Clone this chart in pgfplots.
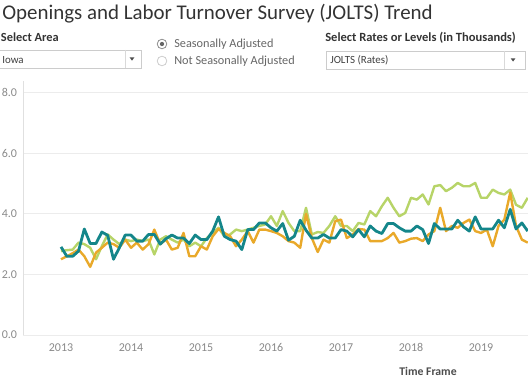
\documentclass[border=0pt]{standalone}
\usepackage{pgfplots}
\pgfplotsset{compat=1.18}
\usepackage{pgfplotstable}
\usepackage{fontspec}
\setmainfont{Carlito}
\definecolor{cOrange}{HTML}{E9A92A}
\definecolor{cGreen}{HTML}{B7D468}
\definecolor{cTeal}{HTML}{14868A}
\definecolor{cTitle}{HTML}{333333}
\definecolor{cTick}{HTML}{8A8A8A}
\definecolor{cGrid}{HTML}{ECECEC}

\pgfplotstableread{
x teal orange green
2013.000 2.91 2.50 2.77
2013.083 2.60 2.60 2.80
2013.167 2.60 2.70 2.82
2013.250 2.77 2.82 3.05
2013.333 3.50 2.60 3.00
2013.417 3.02 2.25 2.88
2013.500 3.02 2.72 2.50
2013.583 3.40 2.88 2.93
2013.667 3.29 3.05 3.32
2013.750 2.50 3.00 3.15
2013.833 2.88 2.88 3.00
2013.917 3.30 3.15 3.15
2014.000 3.30 2.88 3.10
2014.083 3.10 3.05 3.15
2014.167 3.10 2.82 3.10
2014.250 3.32 3.00 3.15
2014.333 3.32 3.48 2.66
2014.417 3.00 3.00 3.15
2014.500 3.18 3.15 3.26
2014.583 3.30 2.82 3.15
2014.667 3.20 2.88 3.05
2014.750 3.20 3.37 3.15
2014.833 3.02 2.60 2.93
2014.917 3.30 2.60 3.05
2015.000 3.15 2.93 2.93
2015.083 3.15 2.82 3.20
2015.167 3.43 3.26 3.37
2015.250 3.90 3.50 3.54
2015.333 3.26 3.37 3.26
2015.417 3.15 3.26 3.32
2015.500 3.10 2.93 3.48
2015.583 2.82 3.15 3.43
2015.667 3.48 3.43 3.48
2015.750 3.48 3.05 3.54
2015.833 3.70 3.48 3.60
2015.917 3.70 3.48 3.65
2016.000 3.54 3.43 3.92
2016.083 3.43 3.37 3.60
2016.167 3.68 3.26 4.09
2016.250 3.13 3.10 3.70
2016.333 3.26 3.05 3.43
2016.417 3.79 2.88 3.43
2016.500 3.46 4.00 4.20
2016.583 3.20 3.20 3.32
2016.667 3.20 2.74 3.40
2016.750 3.32 3.15 3.37
2016.833 3.20 3.05 3.60
2016.917 3.20 3.76 3.92
2017.000 3.48 3.81 3.60
2017.083 3.43 3.20 3.60
2017.167 3.24 3.32 3.43
2017.250 3.48 3.50 3.70
2017.333 3.24 3.48 3.65
2017.417 3.60 3.10 4.09
2017.500 3.43 3.10 3.92
2017.583 3.35 3.10 4.25
2017.667 3.68 3.20 4.53
2017.750 3.68 3.37 4.20
2017.833 3.54 3.05 3.92
2017.917 3.43 3.10 4.03
2018.000 3.43 3.18 4.53
2018.083 3.60 3.20 4.47
2018.167 3.48 3.10 4.64
2018.250 3.02 3.32 4.31
2018.333 3.68 3.43 4.91
2018.417 3.50 4.20 4.95
2018.500 3.50 3.43 4.75
2018.583 3.50 3.60 4.86
2018.667 3.79 3.54 5.02
2018.750 3.57 3.70 4.91
2018.833 3.43 3.81 4.91
2018.917 3.90 3.43 5.02
2019.000 3.50 3.37 4.53
2019.083 3.50 3.48 4.53
2019.167 3.50 2.93 4.80
2019.250 3.79 3.60 4.69
2019.333 3.54 3.81 4.64
2019.417 4.15 4.70 4.80
2019.500 3.50 3.60 4.30
2019.583 3.70 3.15 4.20
2019.667 3.43 3.05 4.53
}\jolts

\begin{document}
\begin{tikzpicture}
\path[use as bounding box] (0,0) rectangle (396pt,288pt);
% title
\node[anchor=base west, inner sep=0pt, text=cTitle, font=\fontsize{15.7}{18}\selectfont] at (1.5pt,273pt) {Openings and Labor Turnover Survey (JOLTS) Trend};
% Select Area
\node[anchor=base west, inner sep=0pt, text=cTitle, font=\fontsize{9.3}{11}\selectfont\bfseries] at (0.5pt,256.5pt) {Select Area};
\draw[draw=black!20, fill=white] (-0.75pt,250.5pt) rectangle (105.75pt,237pt);
\draw[draw=black!15] (93.75pt,250.5pt) -- (93.75pt,237pt);
\node[anchor=base west, inner sep=0pt, text=black!75, font=\fontsize{8.2}{10}\selectfont] at (1.5pt,240.5pt) {Iowa};
\fill[black!70] (97.2pt,245pt) -- (100.8pt,245pt) -- (99pt,242.5pt) -- cycle;
% radio buttons
\draw[black!45, line width=0.6pt, fill=white] (121.5pt,255pt) circle (3.6pt);
\fill[black!60] (121.5pt,255pt) circle (1.6pt);
\draw[black!20, line width=0.6pt, fill=white] (121.5pt,242.25pt) circle (3.6pt);
\node[anchor=base west, inner sep=0pt, text=black!60, font=\fontsize{9.2}{11}\selectfont] at (130.5pt,252.5pt) {Seasonally Adjusted};
\node[anchor=base west, inner sep=0pt, text=black!60, font=\fontsize{9.2}{11}\selectfont] at (130.5pt,239.5pt) {Not Seasonally Adjusted};
% Select Rates
\node[anchor=base west, inner sep=0pt, text=cTitle, font=\fontsize{9.4}{11}\selectfont\bfseries] at (243.75pt,256.5pt) {Select Rates or Levels (in Thousands)};
\draw[draw=black!20, fill=white] (244.5pt,249.75pt) rectangle (393.75pt,236.25pt);
\draw[draw=black!15] (378pt,249.75pt) -- (378pt,236.25pt);
\node[anchor=base west, inner sep=0pt, text=black!75, font=\fontsize{8.2}{10}\selectfont] at (247.5pt,240pt) {JOLTS (Rates)};
\fill[black!70] (383pt,244.3pt) -- (386.6pt,244.3pt) -- (384.8pt,241.8pt) -- cycle;

\begin{axis}[
  at={(17.25pt,36.75pt)}, anchor=south west,
  scale only axis, width=378.75pt, height=190.8pt,
  xmin=2012.457, xmax=2019.671, ymin=0, ymax=8.4,
  axis line style={draw=none},
  xtick={2013,2014,2015,2016,2017,2018,2019},
  xticklabels={2013,2014,2015,2016,2017,2018,2019},
  ytick={0,2,4,6,8},
  yticklabels={0.0,2.0,4.0,6.0,8.0},
  major tick length=0pt,
  ymajorgrids, grid style={cGrid, line width=0.6pt},
  tick label style={text=cTick, font=\fontsize{9}{10}\selectfont},
  xticklabel style={yshift=-3pt},
  yticklabel style={xshift=-1pt},
  clip=true,
]
\draw[black!12, line width=0.6pt] (axis cs:2012.457,0) -- (axis cs:2012.457,8.4);
\addplot[cGreen, line width=1.8pt, line join=round] table[x=x, y=green] {\jolts};
\addplot[cOrange, line width=1.8pt, line join=round] table[x=x, y=orange] {\jolts};
\addplot[cTeal, line width=2.1pt, line join=round] table[x=x, y=teal] {\jolts};
\end{axis}
\node[anchor=center, inner sep=0pt, text=black!70, font=\fontsize{8.8}{10}\selectfont\bfseries] at (321pt,9.75pt) {Time Frame};
\end{tikzpicture}
\end{document}
